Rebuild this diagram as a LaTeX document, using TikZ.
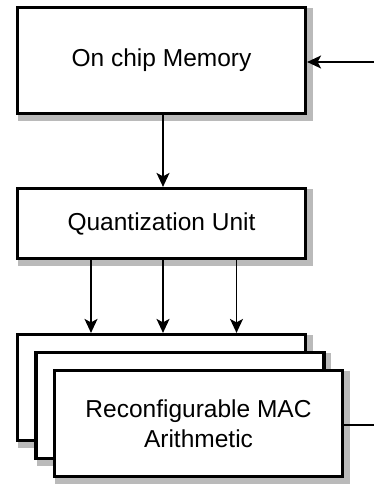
\documentclass[tikz,border=0pt]{standalone}
\usepackage{fontspec}
\setmainfont{Liberation Sans}
\usetikzlibrary{arrows.meta,calc,backgrounds}
\begin{document}
\begin{tikzpicture}[x=1pt,y=-1pt,
  block/.style={draw=black,line width=3.2pt,fill=white,inner sep=0pt,
    minimum width=288pt,
    font=\fontsize{24.5pt}{29.5pt}\selectfont,align=center},
  shade box/.style={draw=black!27,fill=black!27,line width=3.2pt},
  link/.style={line width=1.6pt,-{Stealth[length=14pt,width=13pt,inset=3.5pt]}}]
  \useasboundingbox (0,0) rectangle (374,487);
  % memory and quantiser
  \node[block,minimum height=106pt] (mem) at (161.5,60.5) {On chip Memory};
  \node[block,minimum height=70pt] (quant) at (161.5,223.5) {Quantization Unit};
  % stacked MAC arrays
  \node[block,minimum height=106pt] (mac1) at (161.5,387.5) {};
  \node[block,minimum height=106pt] (mac2) at (180,405.5) {};
  \node[block,minimum height=106pt] (mac3) at (198.5,423.5) {Reconfigurable MAC\\Arithmetic};
  % drop shadows behind every block
  \begin{scope}[on background layer]
    \foreach \b in {mem,quant,mac1,mac2,mac3}
      \draw[shade box] ($(\b.north west)+(4,4)$) rectangle ($(\b.south east)+(4,4)$);
  \end{scope}
  % connectors
  \coordinate (in) at (374,62);
  \coordinate (out) at (374,425);
  \draw[link] (in) -- (mem.east |- in);
  \draw[link] (mem.south) ++(1.5,0) coordinate (m0) -- (m0 |- quant.north);
  \foreach \dx in {-70.5,1.5,75} {
    \draw[link] ($(quant.south)+(\dx,0)$) coordinate (q) -- (q |- mac1.north);
  }
  \draw[line width=1.6pt] (mac3.east |- out) -- (out);
\end{tikzpicture}
\end{document}
